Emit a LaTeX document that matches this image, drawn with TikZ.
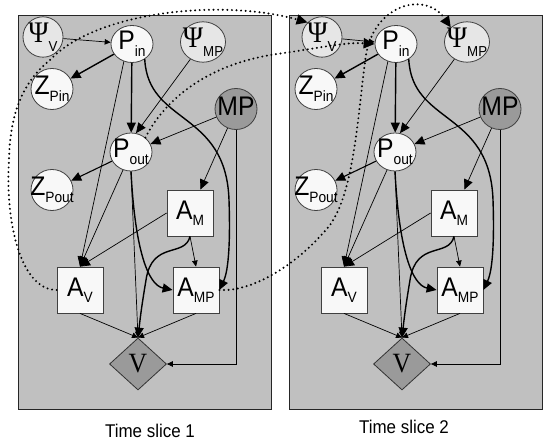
\documentclass[tikz,border=0pt]{standalone}
\usepackage{fontspec}
\setmainfont[FakeStretch=0.92]{Liberation Sans}
\newfontfamily\nodeserif[FakeStretch=0.92]{Liberation Serif}
\usetikzlibrary{arrows.meta,shapes.geometric}

\definecolor{panelgray}{HTML}{C0C0C0}
\definecolor{nodewhite}{HTML}{F8F8F8}
\definecolor{nodedark}{HTML}{9A9A9A}
\definecolor{psifill}{HTML}{E6E6E6}

% letter with a lowered index, kept out of the node size
\newcommand\vlabel[2]{\makebox[0pt]{\fontsize{27}{27}\selectfont #1\raisebox{-6.5bp}{\fontsize{15}{15}\selectfont #2}}}
\newcommand\psilabel[1]{\makebox[0pt]{{\nodeserif\fontsize{30}{30}\selectfont Ψ}\raisebox{-9bp}{\fontsize{14.5}{14.5}\selectfont #1}}}

% one time slice of the network; #1 = slice index, #2 = x of the Psi_V node
\newcommand\drawslice[2]{%
  \node[psi, minimum width=40bp, minimum height=40bp] (PsiV#1) at (#2,37) {\psilabel{V}};
  \node[var, minimum height=37bp] (Pin#1) at (132,44) {\vlabel{P}{in}};
  \node[psi, minimum width=45bp, minimum height=32bp] (PsiMP#1) at (203,42) {\psilabel{MP}};
  \node[var] (ZPin#1) at (52,89) {\vlabel{Z}{Pin}};
  \node[var, fill=nodedark] (MP#1) at (236,109) {\vlabel{MP}{}};
  \node[var, minimum height=38bp] (Pout#1) at (131,152) {\vlabel{P}{out}};
  \node[var] (ZPout#1) at (52,190) {\vlabel{Z}{Pout}};
  \node[act] (AM#1) at (190,213) {\vlabel{A}{M}};
  \node[act] (AV#1) at (80,290) {\vlabel{A}{V}};
  \node[act] (AMP#1) at (196,290) {\vlabel{A}{MP}};
  \node[util] (V#1) at (138,364) {\nodeserif\fontsize{28}{28}\selectfont V};
  % dependencies inside the slice
  \draw[thinlink, smallhead] (PsiV#1) -- (Pin#1);
  \draw[thicklink, bighead] (Pin#1) -- (ZPin#1);
  \draw[thicklink, bighead] (Pin#1) -- (Pout#1);
  \draw[thinlink, bighead] (PsiMP#1) -- (Pout#1.75);
  \draw[thinlink, bighead] (MP#1) -- (Pout#1);
  \draw[thinlink, bighead] (MP#1) -- (AM#1);
  \draw[midlink, bighead] (Pout#1) -- (ZPout#1);
  \draw[thinlink, bighead] (Pin#1.245) -- (AV#1.north);
  \draw[thinlink, bighead] (Pout#1) -- (AV#1.north);
  \draw[thinlink, bighead] (AM#1.west) -- (AV#1.north);
  \draw[thinlink, smallhead] (Pout#1.south) -- (V#1.north);
  \draw[thicklink, bighead] (Pout#1.south) .. controls (135,250) and (148,285) .. (AMP#1.west);
  \draw[thicklink, bighead] (Pin#1.-50) .. controls (148,125) and (226,110) .. (229,200)
        .. controls (231,260) and (226,276) .. (AMP#1.east);
  \draw[thinlink, smallhead] (AM#1.south) -- (AMP#1.north);
  \draw[thicklink, bighead] (AM#1.south) .. controls (185,258) and (152,240) .. (146,280)
        .. controls (141,310) and (140,320) .. (V#1.north);
  \draw[thinlink, smallhead] (AV#1.south) -- (V#1.north);
  \draw[thinlink, smallhead] (AMP#1.south) -- (V#1.north);
  \draw[thinlink, smallhead] (MP#1.south) |- (V#1.east);
}

\begin{document}
\begin{tikzpicture}[x=1bp, y=-1bp,
  panel/.style={fill=panelgray, draw=black!85, line width=0.8bp},
  var/.style={ellipse, draw=black!75, line width=0.8bp, fill=nodewhite,
    inner sep=0pt, minimum width=42bp, minimum height=41bp},
  psi/.style={var, fill=psifill},
  act/.style={rectangle, draw=black!75, line width=0.8bp, fill=nodewhite,
    inner sep=0pt, minimum width=46bp, minimum height=46bp},
  util/.style={diamond, draw=black!80, line width=0.8bp, fill=nodedark,
    inner sep=0pt, minimum width=57bp, minimum height=52bp},
  thinlink/.style={draw=black, line width=0.7bp},
  midlink/.style={draw=black, line width=1.1bp},
  thicklink/.style={draw=black, line width=1.4bp},
  bighead/.style={-{Triangle[length=10bp,width=9bp]}},
  smallhead/.style={-{Triangle[length=6bp,width=5.5bp]}},
  dotlink/.style={draw=black, line width=2.2bp, line cap=round,
    dash pattern=on 0bp off 4.6bp, -{Triangle[length=11bp,width=10bp]}},
  caption/.style={font=\fontsize{18.5}{18.5}\selectfont}
]
\useasboundingbox (0,0) rectangle (552,444);
\fill[white] (0,0) rectangle (552,444);

% the two time slices
\draw[panel] (18,15) rectangle (271,409);
\draw[panel] (289,15) rectangle (542,409);
\node[caption] (cap1) at (150,431) {Time slice 1};
\node[caption] (cap2) at (404,427) {Time slice 2};

\drawslice{1}{43}
\begin{scope}[xshift=264bp]
  \drawslice{2}{58}
\end{scope}

% links from slice 1 to slice 2
\draw[dotlink] (AV1.west) .. controls (20,290) and (5,220) .. (9,160)
   .. controls (10,110) and (25,80) .. (50,60)
   .. controls (95,12) and (220,-2) .. (PsiV2.north west);
\draw[dotlink] (Pout1.45) .. controls (170,90) and (220,62) .. (277,54)
   .. controls (320,48) and (345,42) .. (Pin2.west);
\draw[dotlink] (AMP1.east) .. controls (255,292) and (300,262) .. (330,225)
   .. controls (355,190) and (358,110) .. (366,55)
   .. controls (374,5) and (425,-10) .. (PsiMP2.north west);
\end{tikzpicture}
\end{document}
